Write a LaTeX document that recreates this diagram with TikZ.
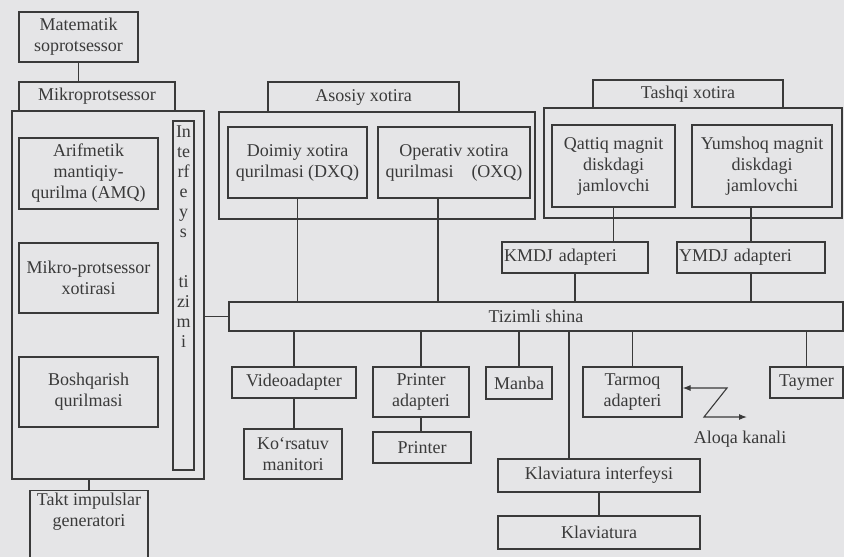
\documentclass[tikz,border=0pt]{standalone}
\usepackage{fontspec}
\setmainfont{Liberation Serif}
\usetikzlibrary{arrows.meta}
\definecolor{paper}{RGB}{229,229,231}
\definecolor{ink}{RGB}{58,58,58}

\begin{document}
\begin{tikzpicture}[x=1pt,y=-1pt,
  blk/.style={draw=ink,line width=1.1pt,align=center,inner sep=2pt,text=ink,
    font=\fontsize{18}{21}\selectfont},
  wire/.style={draw=ink,line width=1.1pt},
  >={Latex[length=8pt,width=6pt]}]
\fill[paper] (0,0) rectangle (844,557);
\useasboundingbox (0,0) rectangle (844,557);
\clip (0,0) rectangle (844,557);
\node[blk,minimum width=119pt,minimum height=50pt] (mat) at (78.5,37) {Matematik\\soprotsessor};
\node[blk,minimum width=156pt,minimum height=29pt] (mkp) at (97,96.5) {Mikroprotsessor};
\node[blk,minimum width=192pt,minimum height=368pt] (cpu) at (108,295) {};
\node[blk,minimum width=21pt,minimum height=349pt] (intf) at (183.5,295.5) {};
\node[anchor=north,align=center,inner sep=0pt,text=ink,
  font=\fontsize{18}{20}\selectfont] (intftxt) at ([yshift=-5pt]intf.north)
  {In\\te\\rf\\e\\y\\s\\[30pt]ti\\zi\\m\\i};
\node[blk,minimum width=139pt,minimum height=71pt] (amq) at (88.5,173.5) {Arifmetik\\mantiqiy-\\qurilma (AMQ)};
\node[blk,minimum width=139pt,minimum height=70pt] (mpx) at (88.5,278) {Mikro-protsessor\\xotirasi};
\node[blk,minimum width=139pt,minimum height=70pt] (bsq) at (88.5,392) {Boshqarish\\qurilmasi};
\node[blk,anchor=north,minimum width=118pt,text depth=60pt] (takt) at (89,490) {Takt impulslar\\generatori};

\node[blk,minimum width=191pt,minimum height=30pt] (asx) at (363.5,97) {Asosiy xotira};
\node[blk,minimum width=316pt,minimum height=107pt] (asg) at (377,165.5) {};
\node[blk,minimum width=139pt,minimum height=71pt] (dxq) at (297.5,162.5) {Doimiy xotira\\qurilmasi (DXQ)};
\node[blk,minimum width=152pt,minimum height=71pt] (oxq) at (454,162.5) {Operativ xotira\\qurilmasi\quad(OXQ)};
\node[blk,minimum width=190pt,minimum height=28pt] (tsx) at (688,94) {Tashqi xotira};
\node[blk,minimum width=298pt,minimum height=110pt] (tsg) at (693,163) {};
\node[blk,minimum width=123pt,minimum height=82pt] (qmd) at (613.5,166) {Qattiq magnit\\diskdagi\\jamlovchi};
\node[blk,minimum width=140pt,minimum height=82pt] (ymd) at (762,166) {Yumshoq magnit\\diskdagi\\jamlovchi};
\node[blk,align=left,text width=142pt,minimum height=31pt] (kmdj) at (575,257.5) {KMDJ adapteri};
\node[blk,align=left,text width=144pt,minimum height=31pt] (ymdj) at (751,257.5) {YMDJ adapteri};

\node[blk,minimum width=614pt,minimum height=29pt] (shina) at (536,316.5) {Tizimli shina};
\node[blk,minimum width=124pt,minimum height=31pt] (video) at (294,382.5) {Videoadapter};
\node[blk,minimum width=96pt,minimum height=50pt] (prad) at (421,392) {Printer\\adapteri};
\node[blk,minimum width=66pt,minimum height=32pt] (manba) at (519,383) {Manba};
\node[blk,minimum width=99pt,minimum height=50pt] (tarmoq) at (632.5,392) {Tarmoq\\adapteri};
\node[blk,minimum width=73pt,minimum height=31pt] (taymer) at (806.5,382.5) {Taymer};
\node[blk,minimum width=98pt,minimum height=50pt] (monitor) at (293,454) {Ko‘rsatuv\\manitori};
\node[blk,minimum width=98pt,minimum height=31pt] (printer) at (422,447.5) {Printer};
\node[blk,minimum width=202pt,minimum height=33pt] (klint) at (599,475.5) {Klaviatura interfeysi};
\node[blk,minimum width=202pt,minimum height=33pt] (klav) at (599,532.5) {Klaviatura};
\node[blk,draw=none] (aloqa) at (740,439) {Aloqa kanali};

\coordinate (oxqb) at ([xshift=-16pt]oxq.south);
\coordinate (klintt) at ([xshift=-30pt]klint.north);
\coordinate (z1) at (727,388);
\coordinate (z2) at (704,417);
\coordinate (z3) at (747,417);
\foreach \a/\b in {mat/mkp,dxq/shina,qmd/kmdj,kmdj/shina,ymdj/shina,video/monitor,prad/printer,klint/klav}
  \draw[wire] (\a.south) -- (\a.south |- \b.north);
\foreach \b in {video,prad,manba,tarmoq,taymer}
  \draw[wire] (\b.north) -- (\b.north |- shina.south);
\draw[wire] (ymd.south -| ymdj.north) -- (ymdj.north);
\draw[wire] (oxqb) -- (oxqb |- shina.north);
\draw[wire] (klintt) -- (klintt |- shina.south);
\draw[wire] (shina.west) -- (shina.west -| cpu.east);
\draw[wire] (takt.north) -- (takt.north |- cpu.south);
\draw[wire,<->] (tarmoq.east |- z1) -- (z1) -- (z2) -- (z3);
\end{tikzpicture}
\end{document}
